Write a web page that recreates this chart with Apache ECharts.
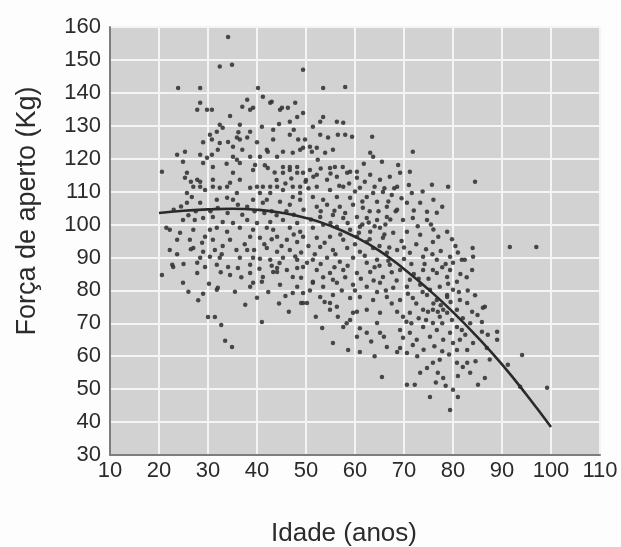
<!DOCTYPE html>
<html>
<head>
<meta charset="utf-8">
<script src="https://cdn.jsdelivr.net/npm/echarts@6/dist/echarts.min.js"></script>
<style>
html,body{margin:0;padding:0;background:#fdfdfd;}
#chart{width:621px;height:547px;}
</style>
</head>
<body>
<div id="chart"></div>
<script>
// Axis ticks
const xTicks = [10, 20, 30, 40, 50, 60, 70, 80, 90, 100, 110];
const yTicks = [30, 40, 50, 60, 70, 80, 90, 100, 110, 120, 130, 140, 150, 160];

// Fitted curve
const curveAges   = [20, 25, 30, 35, 40, 45, 50, 55, 60, 65, 70, 75, 80, 85, 90, 95, 100];
const curveForces = [103.5, 104.2, 104.6, 104.8, 104.5, 103.6, 102, 99.6, 96.3, 92, 86.5, 80.3, 73.4, 65.8, 57.5, 48.3, 38.5];

// Scatter points [age, force] — younger group (< 50 years)
const pointsYoung = [
[34.1,157],[32.4,148],[34.9,148.5],[49.4,147],[23.9,141.5],[28.4,141.5],[40.2,141.5],[41.2,138.8],[38,137.9],[43,137.3],
[45.1,135.5],[46.3,135.5],[47.8,137],[28.4,137],[27.8,134.9],[29.8,134.9],[30.8,134.9],[37,135.8],[38.6,134.9],[39.2,135.5],
[36.5,130.3],[32.4,130.3],[33,129.4],[31.8,128.2],[30.4,127.3],[41,129.7],[38.6,128.2],[43.3,128.8],[46.7,131.2],[48.2,132.7],
[49.4,133.9],[30.8,125.8],[32.4,124.8],[34.1,125.1],[35.9,126.4],[38,126.4],[43.3,125.8],[46.7,127.3],[48.4,125.8],[49.8,125.8],
[23.7,121.2],[25.3,122.1],[28.4,121.2],[29.8,120.3],[30.8,121.2],[32,122.7],[35.1,120.6],[37,122.7],[38.6,120.6],[42.2,122.1],
[45.3,122.1],[47.3,121.8],[49.4,123.3],[24.9,119.1],[29,118.7],[31,117.5],[36.5,118.7],[39.6,118.1],[42.2,117.2],[45.3,117.5],
[46.7,117.5],[48.2,117.5],[20.6,116],[25.7,115.7],[27.8,113.6],[26.7,108.4],[28.4,106.6],[35.1,123.6],[36.5,125.8],[40.6,120.6],
[42,122.7],[35.9,119.7],[35.1,115.7],[36.5,113.6],[39.2,116.6],[44.1,120.6],[48.8,122.7],[45.3,115.7],[46.7,116.6],[48.2,115.7],
[49.4,115.7],[40,111.5],[41.2,111.5],[42.7,111.5],[44.1,111.5],[48.8,111.5],[47.3,108.4],[48.8,107.5],[42,107.5],[39.2,107.5],
[38,105.4],[35.1,107.5],[33.9,111.5],[28.4,111.5],[25.7,109.6],[31,111.5],[44.7,134.9],[42.7,137],
[25.3,114.2],[28.4,113],[27,111.5],[29.4,110.5],[31,113.6],[32.4,111.2],[34.5,112.7],[33.9,108.1],[35.9,109.6],[38.6,111.2],
[40.6,109.6],[42.7,109.6],[45.3,110.5],[47.3,111.5],[48.8,109.6],[25.7,106.6],[31.8,107.5],[36.1,106],[41.2,106.6],[44.7,106.9],
[46.7,106],[24.9,101.4],[27.3,101.4],[29,102],[31,102.3],[33,100.8],[35.1,100.5],[38,101.4],[40,100.5],[42.7,100.8],
[45.3,101.4],[48.2,100.5],[22.2,98.4],[24.3,97.5],[27,98.4],[30.4,98.4],[31.8,99],[33.9,97.8],[36.5,99],[39.2,98.4],
[42,99],[43.3,98.4],[46.7,99],[48.8,97.8],[23.7,95.4],[26.3,95.4],[29.4,96.3],[31,95.4],[34.5,95.4],[38.6,96.3],
[40.6,96],[44.1,96.3],[46.1,95.4],[48.2,94.7],[49.4,96.3],[22.2,92.3],[27,92.9],[29,91.7],[31.4,92.3],[38,92.3],
[39.4,92.3],[42,92.9],[44.1,91.7],[46.7,92.3],[28.4,89.9],[30.4,90.2],[32.4,89.9],[36.5,89.9],[39.2,89.9],[40.6,89.6],
[42.7,89.3],[45.3,89.9],[48.2,89.3],[22.9,87.1],[27.8,88.4],[29.4,87.1],[31.8,87.8],[34.1,87.1],[36.1,86.8],[38.6,87.8],
[44.1,86.8],[46.1,86.2],[49.4,87.1],[20.6,84.7],[27.8,85.3],[34.5,84.7],[38.6,85.3],[41.2,84.1],[44.1,85.6],[47.3,84.1],
[49,83.8],[24.9,82.3],[26,79.6],[32,80.8],[35.5,79.6],[38.6,81.1],[44.7,81.7],[48.2,81.1],[49.4,79.2],[37.6,75.6],
[49.4,76.2],[30,71.9],[31.4,71.9],[32.7,69.5],[33.5,64.7],[34.9,62.8],[41,70.4],[22.7,87.8],[31.8,80.2],[39.2,82.3],
[41,82.6],[43.3,85.6],[47.3,79.2],[49,76.2],[48.2,86.8],[21.5,99],[23,104.5],
[44,113.5],[45.8,112.5],[47,114],[49.9,113],[43,104],[44,102.8],[46,104],[47.5,103],[49.5,104.5],[41.5,103.5],
[39.5,104],[37,103],[34,103.5],[32,105],[30.5,104],[27.5,104],[26,102.8],[37.5,94],[35.8,92.3],[33,93.5],
[32.8,91],[41.5,94],[43,95.5],[45,93.5],[47.5,97],[49,91.5],[47.8,90.3],[44.6,88.3],[43,87.5],[40.5,86.6],
[36.8,84],[32.6,85.5],[30.2,82],[29,79],[28,77],[42.3,79.5],[45.8,78.3],[40,77.8],[44.5,76],[46.5,73.5],
[25,88],[23.7,91],[26.5,92.5],[28.8,94.5],[24.5,105.5],[26.5,113],[29,125],[33.8,118.5],[34.5,133],[36.2,128],
[40,125],[41.6,118],[43.6,115.8],[47.5,128.8],[44.5,130.5]
];

// Scatter points — middle group (50–68 years)
const pointsMiddle = [
[53.5,141.5],[58,141.8],[53.5,132.7],[52.9,131.2],[56.3,131.2],[57.6,130.9],[52.9,127.3],[54.5,126.4],[56.5,127.3],[58,127.3],
[59.4,126.7],[63.5,126.7],[52.2,123.3],[53.9,121.8],[55.5,122.7],[51.2,122.1],[63.1,121.8],[63.7,120.6],[65.5,119.1],[52.4,119.7],
[54.9,117.2],[55.9,117.5],[59,116],[60.4,116],[51.4,129.7],[50.8,123.6],[50.8,116.6],
[52.2,115.1],[54.3,113.6],[56.3,114.5],[58.4,115.7],[60.4,114.2],[63.1,115.1],[65.1,113.6],[67.1,114.5],[52.2,111.5],[54.9,110.5],
[57.6,111.5],[61,111.2],[63.7,109.6],[65.7,109.9],[51.4,108.4],[53.5,107.5],[56.3,108.4],[59,108.1],[62.4,108.4],[64.5,106.9],
[52.2,105.4],[54.3,106],[56.9,105.4],[59.6,106],[61.6,105.1],[66.5,105.4],[52.9,102.3],[55.5,102.9],[57.6,102],[60.4,102.3],
[62.4,102],[64.5,101.4],[66.5,102.3],[51.4,99],[53.5,99.9],[56.3,99.3],[59,98.4],[61,99.3],[63.1,97.8],[65.1,99],
[67.8,97.5],[52.2,96],[54.9,96.3],[57.6,95.4],[60.4,96.3],[62.4,94.7],[65.7,96],[52.9,93.2],[55.5,92.3],[58.4,92.9],
[61,91.7],[63.7,92.9],[66.5,91.4],[51.4,89.3],[54.3,89.9],[56.9,88.7],[59.6,89.9],[62.4,88.4],[64.5,89.3],[67.1,87.8],
[52.2,86.2],[54.9,85.3],[57.6,86.2],[60.4,85.3],[63.1,85.6],[65.7,84.1],[51.4,82.3],[53.5,81.1],[56.3,82.3],[59.6,81.7],
[62.4,81.1],[65.1,82.3],[67.8,80.8],[52.9,78],[55.5,78.6],[59,77.7],[61,78],[63.7,77.1],[66.5,78],[54.9,74.1],
[59.6,73.2],[62.4,74.1],[65.1,73.2],[50.2,88.4],[55.5,83.2],[54.9,76.2],[56.3,75],[50.2,76.2],[53.3,68.6],[55.5,64],
[58.6,61.9],[61,61.3],[59,71],[60.4,65.9],[64.5,70.1],[65.1,67.1],[65.5,53.7],[60.4,73.5],[57.6,68.9],[62.4,67.1],
[65.9,65.9],[66.5,62.8],[51.4,82.6],[55,100.5],[57,97],[58,103.5],[60,94],[61.5,100],[63,95.5],[64,99.5],
[65,93.5],[66,97],[67,93],[56,91],[58.5,87.5],[62,90.5],[64,87],[66.8,89],[67.5,85.5],[53.8,94.5],
[50.5,93.5],[51,101.5],[50.5,111],[57.5,117.5],[61.8,118.5],[62,113],[68,111],[66.8,107],[68.3,104],
[50,113.5],[51.5,114.5],[53,117],[55,115.5],[56.8,111.8],[58.8,112.5],[60,110],[61.5,107],[63,104],[64,111.5],
[66,111],[67.5,109],[53,104],[55.8,104.2],[58.5,100.5],[60.8,97.5],[62.8,100.6],[64.8,104],[66.2,100],[67.2,101.5],
[51.8,91],[53,88],[55.8,87],[58,84],[61.2,83.5],[63.8,83],[65,87.5],[66.3,80],[67.5,76],[50.8,80],
[53.8,76.5],[57.3,80],[60,80],[64.5,79.5],[56.5,72],[58.3,70],[61,68.5],[63.3,64.5],[64,60],[52,72],[53.5,84]
];

// Scatter points — older group (68+ years)
const pointsOld = [
[68.6,111.5],[69.2,115.7],[71.2,116],[75.7,112.1],[79,111.5],[71.6,109.6],[73.3,106.6],[74.7,103.9],[77.8,105.4],[68.6,104.5],
[70.6,106.6],[69.8,101.4],[71.8,102],[74.7,101.4],[78.8,97.8],[70.6,97.8],[73.3,96.9],[75.9,94.7],[68.6,92.3],[71.2,91.4],
[73.9,90.2],[76.7,89.3],[79.4,90.2],[81.8,89.3],[69.2,86.2],[71.2,83.2],[73.9,86.2],[76.7,85.3],[79.4,86.2],[70.6,81.1],
[73.3,81.7],[75.3,80.2],[69.2,77.1],[71.8,77.7],[74.7,78.6],[76.7,77.1],[78.8,78.6],[73.9,74.1],[74.9,73.5],[75.9,74.1],
[76.9,73.5],[78,74.1],[68.6,73.5],[71.2,73.2],[69.2,62.5],[70.6,61],[71.8,63.4],[70.6,51.3],[72.2,51.3],[73.3,55],
[74.7,56.4],[75.9,58],[77.3,58.9],[76.9,55],[78,53.4],[75.3,47.6],[80,49.8],[81,47.6],[79.4,43.7],[82,56.7],
[82.9,58],[80.8,58],[85.1,51.3],[86.5,53.4],[69.2,68],[71.2,67.1],[72.6,65],[69.8,65.6],[73.9,68.9],[75.3,65.9],
[76.7,68],[78,65],[79.4,67.1],[80.8,68.9],[80,64],[81.4,65],[80.8,61.9],[82.9,61.9],[84.1,64],[85.9,67.4],
[87.1,66.5],[89,67.4],[89,65],[86.9,62.5],[83.9,73.5],[85.9,70.4],[86.1,74.7],[82.9,76.2],[80.8,74.1],[78.8,73.2],
[79.8,71],[77.3,72],[75.9,70.1],[94.1,60.4],[91.2,57.4],[99.2,50.4],[93.7,50.7],[84.1,90.2],[83.9,86.2],[82.4,89.3],
[80,88.4],[78.8,84.1],[80.8,82.6],[75.9,86.2],[77.3,81.1],[80,80.2],[81.4,77.1],[78.8,78],[68.6,61.3],[84.5,113],
[71.8,122.1],[68.8,118.1],[91.6,93.2],[97,93.2],[84,92.9],[86.5,75],[76.7,103.6],[72.5,94],[70,89.5],[74.5,92.5],
[77.5,92],[80.5,93.5],[72,85],[75,83.5],[81.5,85],[83,80],[70.5,70.5],[73,71.5],[82,71.5],[84.5,78.5],
[68.5,83],[69.5,95],[72.8,99.5],[76,98.5],[78.5,88],[82.5,66.5],[87.5,59],
[69.5,108],[71,112],[73.8,110],[76,107.5],[72,104.3],[75.5,100],[77,96.3],[79.8,95.5],[81,91.5],[82.8,84],
[70,93],[71.5,88],[73,83.5],[74.2,88],[75.8,91],[77.8,87],[79,82],[70.8,79],[72.5,76],[73.8,79.5],
[76,76],[77.5,75.5],[79.5,76.5],[81.2,79.5],[69.8,72],[71.5,70],[74.5,71],[77.8,70],[81.8,68],[83.5,70],
[85,72.5],[72.7,60],[74,62],[76.2,63],[77.8,61.5],[79.2,60.5],[81,54],[83.5,55],[84.6,58.5],[78.5,51],[76.5,52]
];

const curveData = curveAges.map((a, i) => [a, curveForces[i]]);
const allPoints = pointsYoung.concat(pointsMiddle, pointsOld);

const chart = echarts.init(document.getElementById('chart'), null, {renderer: 'canvas'});
const fontFam = 'Liberation Sans, Arial, sans-serif';
const labelFont = {fontFamily: fontFam, fontSize: 22, color: '#2b2b2b'};

chart.setOption({
  animation: false,
  backgroundColor: '#fdfdfd',
  grid: {left: 110, right: 21, top: 27, bottom: 92, show: true, backgroundColor: '#d2d2d2', borderWidth: 0},
  xAxis: {
    type: 'value', min: xTicks[0], max: xTicks[xTicks.length - 1], interval: 10,
    axisLine: {show: true, onZero: false, lineStyle: {color: '#7d7d7d', width: 2}},
    axisTick: {show: false},
    axisLabel: Object.assign({margin: 5}, labelFont),
    splitLine: {show: true, lineStyle: {color: '#f4f4f4', width: 2}}
  },
  yAxis: {
    type: 'value', min: yTicks[0], max: yTicks[yTicks.length - 1], interval: 10,
    axisLine: {show: true, onZero: false, lineStyle: {color: '#7d7d7d', width: 2}},
    axisTick: {show: false},
    axisLabel: Object.assign({margin: 9}, labelFont),
    splitLine: {show: true, lineStyle: {color: '#f4f4f4', width: 2}}
  },
  graphic: [
    {type: 'text', x: 28, y: 211, rotation: Math.PI / 2,
     style: {text: 'Força de aperto (Kg)', fontFamily: fontFam, fontSize: 27, fill: '#2b2b2b', align: 'center', verticalAlign: 'middle'}},
    {type: 'text', x: 344, y: 534,
     style: {text: 'Idade (anos)', fontFamily: fontFam, fontSize: 26, fill: '#2b2b2b', align: 'center', verticalAlign: 'middle'}}
  ],
  series: [
    {type: 'scatter', data: allPoints, symbol: 'circle', symbolSize: 4.5, itemStyle: {color: '#363636', opacity: 0.9}, z: 2},
    {type: 'line', data: curveData, smooth: true, showSymbol: false, symbol: 'none', lineStyle: {color: '#2a2a2a', width: 2.6}, z: 3}
  ]
});
</script>
</body>
</html>
